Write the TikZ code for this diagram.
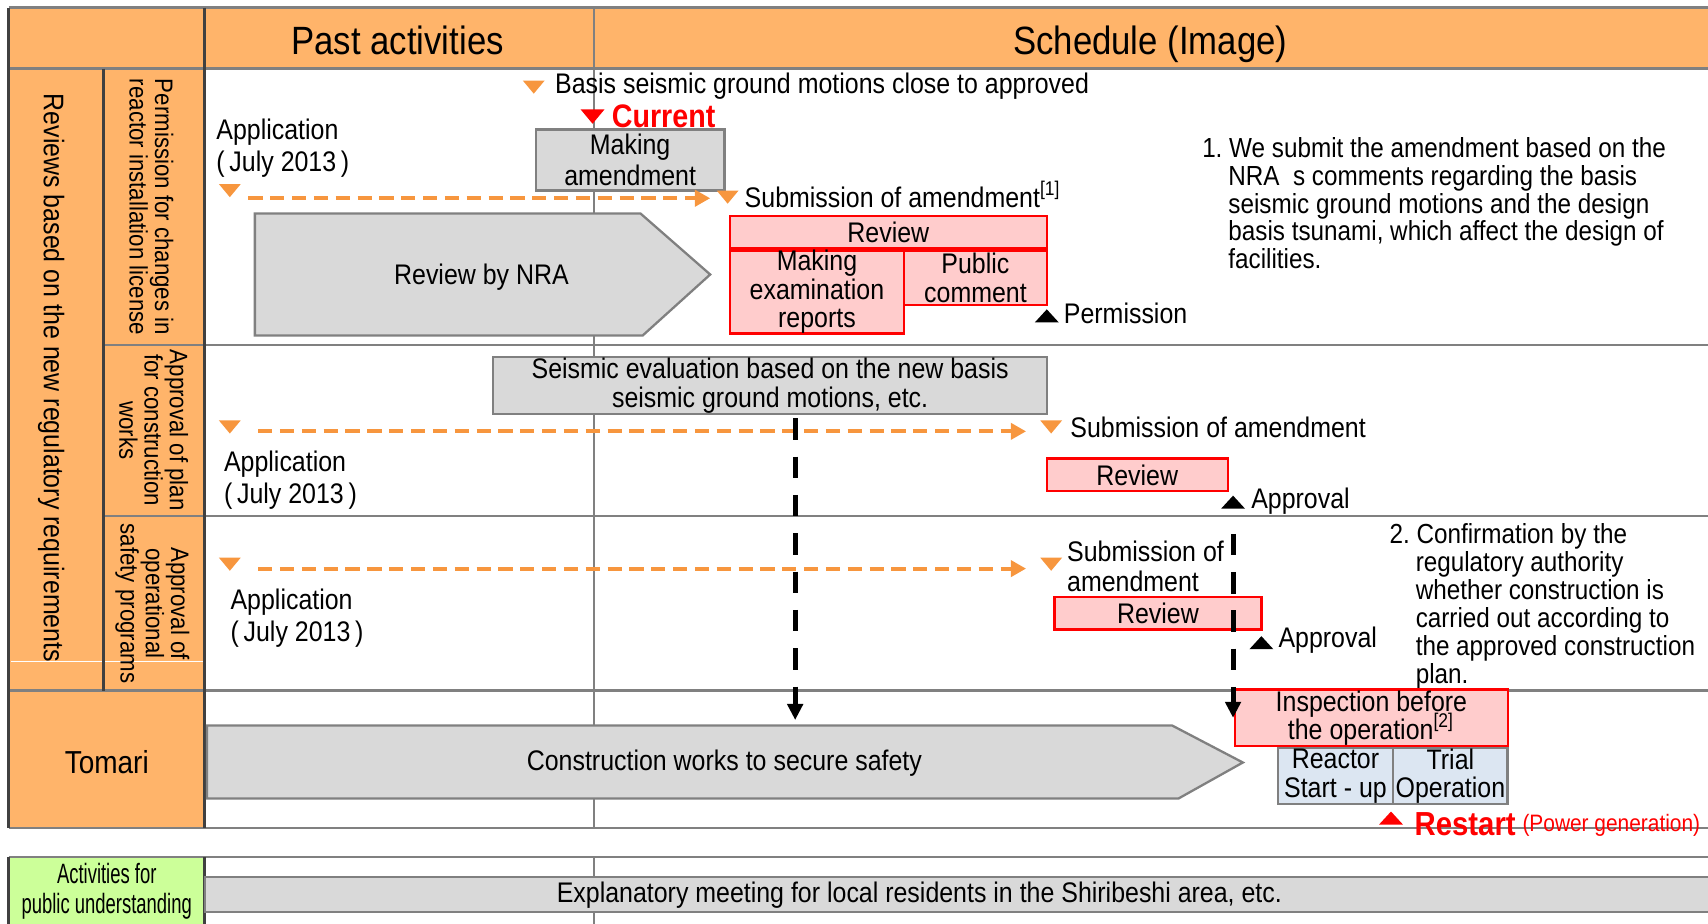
\documentclass[tikz,border=0pt]{standalone}
\usepackage{fontspec}
\setmainfont{Liberation Sans}[FakeStretch=0.88]
\newfontfamily\narrowfont{Liberation Sans}[FakeStretch=0.66]
\usetikzlibrary{arrows.meta}

\definecolor{headorange}{RGB}{255,180,106}
\definecolor{markorange}{RGB}{247,150,62}
\definecolor{boxgray}{RGB}{217,217,217}
\definecolor{gridgray}{RGB}{128,128,128}
\definecolor{framegray}{RGB}{64,64,64}
\definecolor{reviewpink}{RGB}{255,204,204}
\definecolor{publicgreen}{RGB}{204,255,153}
\definecolor{stepblue}{RGB}{220,230,242}

\newcommand{\noteref}[1]{\smash{\textsuperscript{[#1]}}}

\begin{document}
\begin{tikzpicture}[x=0.01cm, y=-0.01cm, font=\fontsize{7.4}{7.4}\selectfont,
	downtri/.pic={\fill (-10,-6) -- (10,-6) -- (0,6) -- cycle;},
	uptri/.pic={\fill (-11,6) -- (11,6) -- (0,-6) -- cycle;}]

	\tikzstyle{graybox} = [rectangle, draw=gridgray, line width=0.6pt, fill=boxgray, inner sep=0pt, align=center]
	\tikzstyle{reviewbox} = [rectangle, draw=red, line width=0.6pt, fill=reviewpink, inner sep=0pt, align=center]
	\tikzstyle{stepbox} = [rectangle, draw=gridgray, line width=0.6pt, fill=stepblue, inner sep=0pt, align=center]
	\tikzstyle{remark} = [inner sep=0pt, anchor=west, align=left]
	\tikzstyle{rowhead} = [inner sep=0pt, rotate=-90, align=center, font=\fontsize{6.6}{6.6}\selectfont]
	\tikzstyle{colhead} = [inner sep=0pt, anchor=base, font=\fontsize{10.3}{12}\selectfont]
	\tikzstyle{planarrow} = [markorange, line width=1.1pt, dash pattern=on 3.7pt off 2pt, -{Triangle[length=4pt, width=4.2pt]}]
	\tikzstyle{linkarrow} = [black, line width=1.3pt, dash pattern=on 5.6pt off 4.4pt, -{Triangle[length=4.2pt, width=4pt]}]

	\useasboundingbox (0,0) rectangle (1568,848);

	% table background
	\fill[headorange] (8,7) rectangle (1580,63);
	\fill[headorange] (8,63) rectangle (188,760);
	\fill[publicgreen] (8,787) rectangle (188,860);
	\draw[white, line width=0.3pt] (10,607) -- (188,607);

	% grid lines
	\draw[gridgray, line width=0.5pt] (545,7) -- (545,760) (545,787) -- (545,860);
	\draw[gridgray, line width=0.6pt] (8,7) -- (1580,7) (8,63) -- (1580,63)
		(95,317) -- (1580,317) (95,474) -- (1580,474) (8,634) -- (1580,634)
		(8,760) -- (1580,760) (8,787) -- (1580,787);
	\draw[framegray, line width=0.7pt] (8,7) -- (8,760) (95,63) -- (95,634) (188,7) -- (188,760)
		(8,787) -- (8,860) (188,787) -- (188,860);

	% headings
	\node[colhead] (pasthead) at (365,50) {Past activities};
	\node[colhead] (schedhead) at (1056,50) {Schedule (Image)};
	\node[rowhead, font=\fontsize{7.4}{7.4}\selectfont] (reviews) at (47,347) {Reviews based on the new regulatory requirements};
	\node[rowhead] (permrow) at (139,190) {Permission for changes in\\reactor installation license};
	\node[rowhead] (planrow) at (141,395) {Approval of plan\\for construction\\works};
	\node[rowhead] (safetyrow) at (140,554) {Approval of\\operational\\safety programs};
	\node[font=\fontsize{8.3}{9}\selectfont] (tomari) at (98,700) {Tomari};
	\node[align=center, font=\narrowfont\fontsize{7.3}{7.7}\selectfont] (public) at (98,818) {Activities for\\public understanding};

	% permission row
	\coordinate (basistri) at (490,80);
	\pic[markorange] at (basistri) {downtri};
	\node[remark] (basis) at (509,79) {Basis seismic ground motions close to approved};
	\coordinate (nowtri) at (544,107);
	\pic[red, scale=1.1] at (nowtri) {downtri};
	\node[remark, text=red, font=\bfseries\fontsize{8.5}{9}\selectfont] (current) at (561,107) {Current};
	\node[graybox, minimum width=1.73cm, minimum height=0.56cm, font=\fontsize{7.4}{8}\selectfont] (amendA) at (578.5,147) {Making\\amendment};
	\node[remark, font=\fontsize{7.4}{8.5}\selectfont] (appA) at (198,136) {Application\\(\,July 2013\,)};
	\coordinate (appAtri) at (211,175);
	\pic[markorange] at (appAtri) {downtri};
	\coordinate (subAtri) at (668,181);
	\pic[markorange] at (subAtri) {downtri};
	\node[remark] (subA) at (683,181) {Submission of amendment\noteref{1}};
	\draw[planarrow] ([shift={(17,7)}]appAtri) -- ([shift={(-16,1)}]subAtri);
	\draw[gridgray, line width=0.6pt, fill=boxgray] (234,196) -- (588,196) -- (652,252) -- (590,308) -- (234,308) -- cycle;
	\node (nrareview) at (442,254) {Review by NRA};
	\node[reviewbox, minimum width=2.91cm, minimum height=0.30cm] (reviewA) at (815.5,213) {Review};
	\node[reviewbox, minimum width=1.60cm, minimum height=0.76cm] (reports) at (750,268) {Making\\examination\\reports};
	\node[reviewbox, minimum width=1.31cm, minimum height=0.50cm] (comment) at (895.5,255) {Public\\comment};
	\coordinate (permtri) at (961,290);
	\pic[black] at (permtri) {uptri};
	\node[remark] (permit) at (976,288) {Permission};
	\node[remark, font=\fontsize{7.2}{7.3}\selectfont] (noteA) at (1103,186.5) {1.~We submit the amendment based on the\\
		\hspace*{0.24cm}NRA~~s comments regarding the basis\\
		\hspace*{0.24cm}seismic ground motions and the design\\
		\hspace*{0.24cm}basis tsunami, which affect the design of\\
		\hspace*{0.24cm}facilities.};

	% construction plan row
	\node[graybox, minimum width=5.08cm, minimum height=0.52cm, font=\fontsize{7.4}{7.6}\selectfont] (seismic) at (707,354) {Seismic evaluation based on the new basis\\seismic ground motions, etc.};
	\coordinate (appBtri) at (211,392);
	\pic[markorange] at (appBtri) {downtri};
	\coordinate (subBtri) at (965,392);
	\pic[markorange] at (subBtri) {downtri};
	\draw[planarrow] ([shift={(26,4)}]appBtri) -- ([shift={(-23,4)}]subBtri);
	\node[remark] (subB) at (982,392) {Submission of amendment};
	\node[remark, font=\fontsize{7.4}{8.5}\selectfont] (appB) at (205,441) {Application\\(\,July 2013\,)};
	\node[reviewbox, minimum width=1.66cm, minimum height=0.30cm] (reviewB) at (1044,436) {Review};
	\coordinate (apprBtri) at (1132,461);
	\pic[black] at (apprBtri) {uptri};
	\node[remark] (apprB) at (1148,460) {Approval};

	% safety programs row
	\coordinate (appCtri) at (211,518);
	\pic[markorange] at (appCtri) {downtri};
	\coordinate (subCtri) at (965,518);
	\pic[markorange] at (subCtri) {downtri};
	\draw[planarrow] ([shift={(26,4)}]appCtri) -- ([shift={(-23,4)}]subCtri);
	\node[remark, font=\fontsize{7.4}{8}\selectfont] (subC) at (979,520) {Submission of\\amendment};
	\node[remark, font=\fontsize{7.4}{8.5}\selectfont] (appC) at (211,567.5) {Application\\(\,July 2013\,)};
	\node[reviewbox, minimum width=1.90cm, minimum height=0.30cm] (reviewC) at (1063,563) {Review};
	\coordinate (apprCtri) at (1158,590);
	\pic[black] at (apprCtri) {uptri};
	\node[remark] (apprC) at (1173,588) {Approval};
	\node[remark, font=\fontsize{7.2}{7.3}\selectfont] (noteB) at (1275,556.5) {2.~Confirmation by the\\
		\hspace*{0.24cm}regulatory authority\\
		\hspace*{0.24cm}whether construction is\\
		\hspace*{0.24cm}carried out according to\\
		\hspace*{0.24cm}the approved construction\\
		\hspace*{0.24cm}plan.};

	% Tomari row
	\draw[gridgray, line width=0.6pt, fill=boxgray] (190,666) -- (1076,666) -- (1141,700) -- (1082,733) -- (190,733) -- cycle;
	\node (works) at (665,701) {Construction works to secure safety};
	\node[reviewbox, minimum width=2.50cm, minimum height=0.52cm] (inspect) at (1259,659) {Inspection before\\the operation\noteref{2}};
	\node[stepbox, minimum width=1.06cm, minimum height=0.51cm] (startup) at (1226,712.5) {Reactor\\Start - up};
	\node[stepbox, minimum width=1.05cm, minimum height=0.51cm] (trial) at (1331.5,712.5) {Trial\\Operation};
	\coordinate (restarttri) at (1277,751);
	\pic[red] at (restarttri) {uptri};
	\node[remark, text=red, font=\bfseries\fontsize{8.7}{9}\selectfont] (restart) at (1298,757) {Restart};
	\node[remark, text=red, font=\fontsize{6.2}{7}\selectfont] (powergen) at (1397,758) {(Power generation)};

	% public understanding row
	\draw[gridgray, line width=0.6pt, fill=boxgray] (188,805) rectangle (1580,837);
	\node (meeting) at (844,822) {Explanatory meeting for local residents in the Shiribeshi area, etc.};

	% links into the Tomari row
	\coordinate (worksin) at (730,661);
	\draw[linkarrow] (seismic.south -| worksin) ++(0,3) -- (worksin);
	\draw[linkarrow] ([yshift=-0.29cm]apprBtri) -- (apprBtri |- inspect.west);

\end{tikzpicture}
\end{document}
